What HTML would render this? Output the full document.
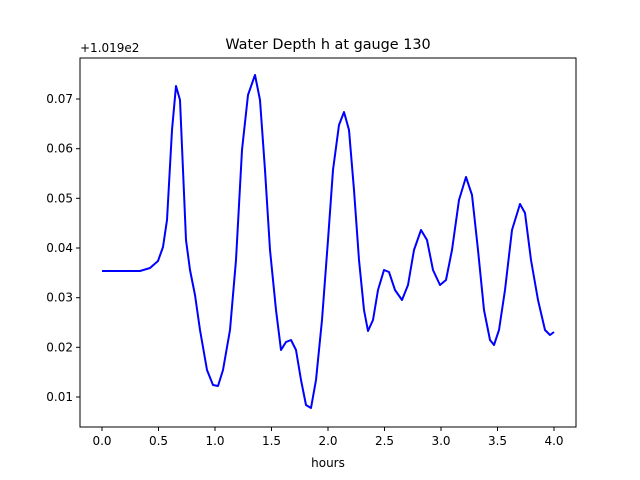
<!DOCTYPE html>
<html><head><meta charset="utf-8"><style>body{margin:0;background:#fff}svg{display:block}</style></head><body>
<svg width="640" height="480" xmlns="http://www.w3.org/2000/svg" font-family="DejaVu Sans, Liberation Sans, sans-serif" font-size="12">
<rect width="640" height="480" fill="#fff"/>
<polyline fill="none" stroke="#0000ff" stroke-width="2" stroke-linejoin="round" points="102,271 130,271 140,271 150,268 158,261 163,247 167,220 172,130 176,86 180,100 183,170 186,240 190,270 195,295 200,330 207,370 213,385 218,386 223,370 230,330 236,260 242,150 248,95 255,75 260,100 265,170 270,250 276,310 281,350 286,342 291,340 296,350 301,380 306,405 311,408 316,380 322,320 328,240 333,170 339,125 344,112 349,130 354,190 359,260 364,310 368,331 373,320 378,290 384,270 389,272 395,290 402,300 408,285 414,250 421,230 427,240 433,270 440,285 446,280 452,250 459,200 466,177 472,195 478,250 484,310 490,340 494,345 499,330 505,290 512,230 520,204 525,213 531,260 538,300 545,330 550,335 554,332"/>
<rect x="80" y="58" width="496" height="369" fill="none" stroke="#000" stroke-width="1"/>
<g stroke="#000">
<line x1="102" y1="427" x2="102" y2="431"/><line x1="158.5" y1="427" x2="158.5" y2="431"/><line x1="215" y1="427" x2="215" y2="431"/><line x1="271.5" y1="427" x2="271.5" y2="431"/><line x1="328" y1="427" x2="328" y2="431"/><line x1="384.5" y1="427" x2="384.5" y2="431"/><line x1="441" y1="427" x2="441" y2="431"/><line x1="497.5" y1="427" x2="497.5" y2="431"/><line x1="554" y1="427" x2="554" y2="431"/>
<line x1="76" y1="397" x2="80" y2="397"/><line x1="76" y1="347.3" x2="80" y2="347.3"/><line x1="76" y1="297.7" x2="80" y2="297.7"/><line x1="76" y1="248" x2="80" y2="248"/><line x1="76" y1="198.3" x2="80" y2="198.3"/><line x1="76" y1="148.7" x2="80" y2="148.7"/><line x1="76" y1="99" x2="80" y2="99"/>
</g>
<g text-anchor="middle">
<text x="102" y="445">0.0</text><text x="158.5" y="445">0.5</text><text x="215" y="445">1.0</text><text x="271.5" y="445">1.5</text><text x="328" y="445">2.0</text><text x="384.5" y="445">2.5</text><text x="441" y="445">3.0</text><text x="497.5" y="445">3.5</text><text x="554" y="445">4.0</text>
<text x="328" y="467">hours</text>
<text x="328" y="49" font-size="14.4">Water Depth h at gauge 130</text>
</g>
<g text-anchor="end">
<text x="73" y="401">0.01</text><text x="73" y="351.3">0.02</text><text x="73" y="301.7">0.03</text><text x="73" y="252">0.04</text><text x="73" y="202.3">0.05</text><text x="73" y="152.7">0.06</text><text x="73" y="103">0.07</text>
</g>
<text x="80" y="52">+1.019e2</text>
</svg>
</body></html>
